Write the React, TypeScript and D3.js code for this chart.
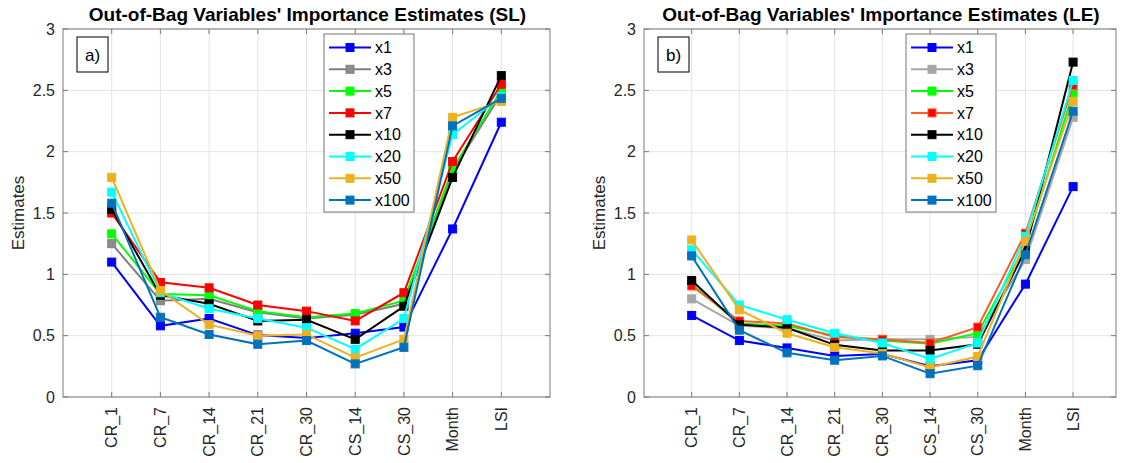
import React from "react";
import * as d3 from "d3";

const categories = ["CR_1", "CR_7", "CR_14", "CR_21", "CR_30", "CS_14", "CS_30", "Month", "LSI"];
const seriesNames = ["x1", "x3", "x5", "x7", "x10", "x20", "x50", "x100"];
const yTicks = [0, 0.5, 1, 1.5, 2, 2.5, 3];

// Panel a) SL
const slX1 = [1.1, 0.58, 0.64, 0.505, 0.48, 0.52, 0.57, 1.37, 2.24];
const slX3 = [1.25, 0.785, 0.8, 0.69, 0.64, 0.67, 0.76, 1.84, 2.47];
const slX5 = [1.33, 0.84, 0.83, 0.7, 0.65, 0.68, 0.785, 1.86, 2.5];
const slX7 = [1.5, 0.935, 0.89, 0.75, 0.7, 0.62, 0.85, 1.92, 2.55];
const slX10 = [1.53, 0.83, 0.76, 0.62, 0.63, 0.47, 0.74, 1.79, 2.62];
const slX20 = [1.67, 0.85, 0.72, 0.64, 0.565, 0.39, 0.64, 2.14, 2.45];
const slX50 = [1.79, 0.867, 0.59, 0.5, 0.51, 0.32, 0.47, 2.28, 2.41];
const slX100 = [1.58, 0.65, 0.51, 0.43, 0.46, 0.27, 0.405, 2.21, 2.435];

// Panel b) LE
const leX1 = [0.665, 0.46, 0.4, 0.335, 0.35, 0.25, 0.3, 0.92, 1.715];
const leX3 = [0.8, 0.58, 0.56, 0.46, 0.47, 0.47, 0.49, 1.12, 2.28];
const leX5 = [0.92, 0.6, 0.58, 0.5, 0.46, 0.435, 0.52, 1.23, 2.48];
const leX7 = [0.905, 0.62, 0.6, 0.49, 0.47, 0.44, 0.57, 1.335, 2.54];
const leX10 = [0.95, 0.59, 0.565, 0.425, 0.38, 0.38, 0.43, 1.2, 2.73];
const leX20 = [1.2, 0.75, 0.63, 0.52, 0.44, 0.31, 0.44, 1.31, 2.58];
const leX50 = [1.28, 0.71, 0.52, 0.405, 0.355, 0.24, 0.33, 1.27, 2.41];
const leX100 = [1.15, 0.545, 0.36, 0.3, 0.335, 0.19, 0.255, 1.16, 2.33];

const slLine = ["#0000ff", "#808080", "#00ff00", "#ff0000", "#000000", "#00ffff", "#edb120", "#0072bd"];
const slFace = ["#0000ff", "#8c8c8c", "#00ff00", "#ff0000", "#000000", "#00ffff", "#edb120", "#0072bd"];
const leLine = ["#0000ff", "#a6a6a6", "#00ff00", "#ff5a28", "#000000", "#00ffff", "#edb120", "#0072bd"];
const leFace = ["#0000ff", "#a6a6a6", "#00ff00", "#ff0000", "#000000", "#00ffff", "#edb120", "#0072bd"];

const FONT = "'Liberation Sans', Arial, sans-serif";
const TXT = "#262626";

type PanelProps = {
  title: string;
  tag: string;
  x0: number;
  x1: number;
  xMax: number;
  series: number[][];
  lineColors: string[];
  faceColors: string[];
  legendX: number;
};

function Panel({ title, tag, x0, x1, xMax, series, lineColors, faceColors, legendX }: PanelProps) {
  const top = 29;
  const bottom = 397;
  const x = d3.scaleLinear().domain([0, xMax]).range([x0, x1]);
  const y = d3.scaleLinear().domain([0, 3]).range([bottom, top]);
  const line = d3
    .line<number>()
    .x((_, i) => x(i + 1))
    .y((d) => y(d));
  const ms = 8;
  const legTop = 34;
  const legStep = 21.8;
  return (
    <g>
      <rect x={x0} y={top} width={x1 - x0} height={bottom - top} fill="#fff" />
      {categories.map((c, i) => (
        <line key={"gx" + c} x1={x(i + 1)} x2={x(i + 1)} y1={top} y2={bottom} stroke="#e3e3e3" strokeWidth={1} />
      ))}
      {yTicks.map((t) => (
        <line key={"gy" + t} x1={x0} x2={x1} y1={y(t)} y2={y(t)} stroke="#e3e3e3" strokeWidth={1} />
      ))}
      {series.map((s, k) => (
        <g key={"s" + k}>
          <path d={line(s) || ""} fill="none" stroke={lineColors[k]} strokeWidth={2} />
          {s.map((v, i) => (
            <rect
              key={i}
              x={x(i + 1) - ms / 2}
              y={y(v) - ms / 2}
              width={ms}
              height={ms}
              fill={faceColors[k]}
              stroke={lineColors[k]}
              strokeWidth={1}
            />
          ))}
        </g>
      ))}
      {/* frame */}
      <rect x={x0} y={top} width={x1 - x0} height={bottom - top} fill="none" stroke="#7a7a7a" strokeWidth={1} />
      {categories.map((c, i) => (
        <g key={"tx" + c}>
          <line x1={x(i + 1)} x2={x(i + 1)} y1={bottom} y2={bottom - 5} stroke="#7a7a7a" />
          <line x1={x(i + 1)} x2={x(i + 1)} y1={top} y2={top + 5} stroke="#7a7a7a" />
          <text
            transform={`translate(${x(i + 1)},${bottom + 10}) rotate(-90)`}
            textAnchor="end"
            dy="0.35em"
            fontSize={16}
            fontFamily={FONT}
            fill={TXT}
          >
            {c}
          </text>
        </g>
      ))}
      {yTicks.map((t) => (
        <g key={"ty" + t}>
          <line x1={x0} x2={x0 + 5} y1={y(t)} y2={y(t)} stroke="#7a7a7a" />
          <line x1={x1} x2={x1 - 5} y1={y(t)} y2={y(t)} stroke="#7a7a7a" />
          <text x={x0 - 8} y={y(t)} dy="0.35em" textAnchor="end" fontSize={16} fontFamily={FONT} fill={TXT}>
            {t}
          </text>
        </g>
      ))}
      <text
        transform={`translate(${x0 - 45},${(top + bottom) / 2}) rotate(-90)`}
        textAnchor="middle"
        dy="0.35em"
        fontSize={17}
        fontFamily={FONT}
        fill={TXT}
      >
        Estimates
      </text>
      <text x={(x0 + x1) / 2 + 1} y={21} textAnchor="middle" fontSize={19} fontWeight="bold" fontFamily={FONT} fill="#000">
        {title}
      </text>
      {/* tag box */}
      <rect x={x0 + 14} y={37} width={31} height={35} fill="#fff" stroke={TXT} strokeWidth={1.2} />
      <text x={x0 + 29.5} y={55} dy="0.35em" textAnchor="middle" fontSize={17} fontFamily={FONT} fill="#000">
        {tag}
      </text>
      {/* legend */}
      <rect x={legendX} y={legTop} width={90} height={178} fill="#fff" stroke="#777" strokeWidth={1} />
      {seriesNames.map((n, k) => {
        const ly = legTop + 13.5 + k * legStep;
        return (
          <g key={"l" + n}>
            <line x1={legendX + 5} x2={legendX + 47} y1={ly} y2={ly} stroke={lineColors[k]} strokeWidth={2} />
            <rect x={legendX + 26 - ms / 2} y={ly - ms / 2} width={ms} height={ms} fill={faceColors[k]} stroke={lineColors[k]} />
            <text x={legendX + 51} y={ly} dy="0.35em" fontSize={16} fontFamily={FONT} fill="#000">
              {n}
            </text>
          </g>
        );
      })}
    </g>
  );
}

export default function App() {
  const sl = [slX1, slX3, slX5, slX7, slX10, slX20, slX50, slX100];
  const le = [leX1, leX3, leX5, leX7, leX10, leX20, leX50, leX100];
  return (
    <div style={{ position: "absolute", left: 0, top: 0 }}>
      <svg width={1131} height={463} style={{ display: "block", background: "#fff" }}>
        <Panel
          title="Out-of-Bag Variables' Importance Estimates (SL)"
          tag="a)"
          x0={63}
          x1={550}
          xMax={10}
          series={sl}
          lineColors={slLine}
          faceColors={slFace}
          legendX={324}
        />
        <Panel
          title="Out-of-Bag Variables' Importance Estimates (LE)"
          tag="b)"
          x0={644}
          x1={1116}
          xMax={9.9}
          series={le}
          lineColors={leLine}
          faceColors={leFace}
          legendX={906}
        />
      </svg>
    </div>
  );
}
